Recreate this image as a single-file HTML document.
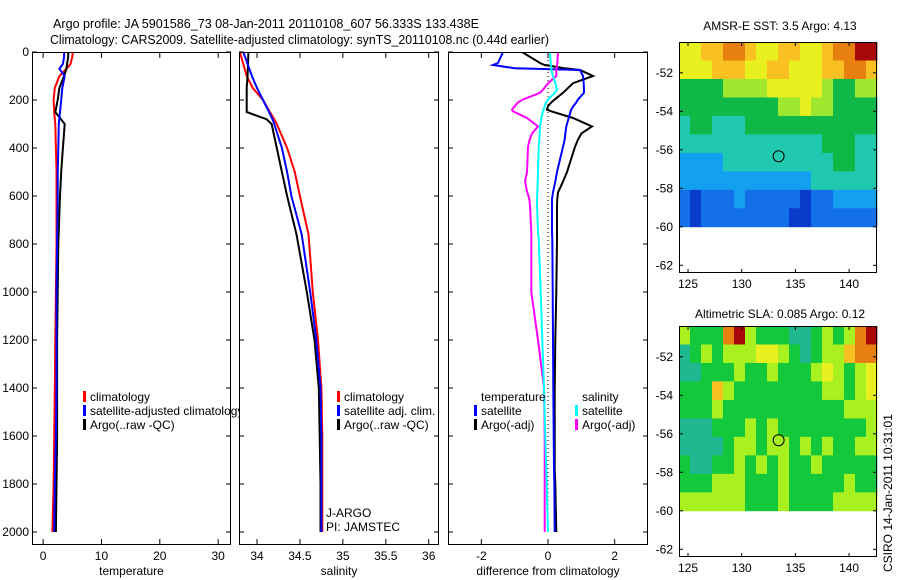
<!DOCTYPE html>
<html><head><meta charset="utf-8"><style>
html,body{margin:0;padding:0;background:#fff;}
svg{display:block;font-family:"Liberation Sans",sans-serif;}
</style></head><body>
<svg id="fig" width="900" height="580" viewBox="0 0 900 580" xmlns="http://www.w3.org/2000/svg">
<text x="53" y="28" font-size="13" textLength="426" lengthAdjust="spacingAndGlyphs">Argo profile: JA 5901586_73 08-Jan-2011 20110108_607 56.333S 133.438E</text>
<text x="50" y="44" font-size="13" textLength="499" lengthAdjust="spacingAndGlyphs">Climatology: CARS2009. Satellite-adjusted climatology: synTS_20110108.nc (0.44d earlier)</text>
<text x="780" y="30" font-size="12" text-anchor="middle">AMSR-E SST: 3.5 Argo: 4.13</text>
<text x="780" y="318" font-size="12" text-anchor="middle">Altimetric SLA: 0.085 Argo: 0.12</text>
<text x="0" y="0" font-size="12" transform="translate(892,572) rotate(-90)">CSIRO 14-Jan-2011 10:31:01</text>
</svg>
<script>
// ---- profile data ----
const depthT = [0,20,50,70,100,150,200,250,300,400,500,600,800,1000,1200,1400,1600,1800,2000];
const tempClim = [5.1,5.0,4.7,4.0,2.8,2.0,1.8,1.9,2.1,2.2,2.3,2.3,2.3,2.2,2.1,2.0,1.9,1.8,1.6];
const tempSat = [3.6,3.6,3.4,2.8,3.7,3.3,3.1,2.9,2.7,2.6,2.5,2.5,2.4,2.3,2.3,2.3,2.2,2.0,1.9];
const tempArgo = [4.3,4.3,4.1,4.0,3.6,2.8,2.5,2.1,3.7,3.4,3.1,2.9,2.6,2.5,2.4,2.4,2.4,2.3,2.2];
const depthS = [0,100,150,200,250,280,300,400,500,600,760,1000,1200,1400,1600,1800,2000];
const salClim = [33.80,33.88,33.95,34.07,34.15,34.20,34.23,34.35,34.44,34.50,34.60,34.65,34.71,34.75,34.76,34.76,34.76];
const salSat = [33.84,33.94,34.00,34.07,34.14,34.18,34.20,34.29,34.35,34.40,34.52,34.62,34.69,34.74,34.75,34.75,34.75];
const salArgo = [33.90,33.89,33.88,33.88,33.88,34.11,34.17,34.23,34.29,34.35,34.46,34.58,34.67,34.72,34.73,34.74,34.74];
const depthD = [0,46,54,68,75,100,130,157,170,198,210,226,240,247,275,310,340,365,395,500,540,585,612,640,750,780,1000,1200,1400,1600,1740,1800,2000];
const dTempSat = [-1.35,-1.5,-1.65,-1.0,0.96,1.05,1.07,1.08,1.08,0.9,0.85,0.76,0.7,0.68,0.62,0.55,0.52,0.5,0.45,0.27,0.22,0.15,0.12,0.12,0.12,0.13,0.14,0.15,0.16,0.17,0.18,0.19,0.2];
const dTempArgo = [-0.78,-0.24,-0.1,0.5,0.96,1.35,0.75,0.55,0.45,0.2,0.1,0.0,-0.03,0.1,0.75,1.32,1.0,0.9,0.81,0.57,0.45,0.3,0.28,0.27,0.27,0.27,0.25,0.22,0.2,0.2,0.2,0.22,0.25];
const dSalSat = [0.06,0.08,0.09,0.1,0.1,0.15,0.22,0.27,0.2,0.0,-0.06,-0.1,-0.13,-0.15,-0.2,-0.24,-0.25,-0.26,-0.28,-0.3,-0.31,-0.32,-0.33,-0.33,-0.3,-0.28,-0.22,-0.17,-0.12,-0.08,-0.05,-0.04,0.0];
const dSalArgo = [0.3,0.28,0.27,0.26,0.25,0.25,0.0,-0.15,-0.24,-0.75,-0.9,-1.0,-1.08,-1.05,-0.63,-0.3,-0.48,-0.55,-0.6,-0.63,-0.69,-0.62,-0.56,-0.54,-0.5,-0.5,-0.5,-0.3,-0.12,-0.1,-0.1,-0.1,-0.1];
const depthTicks = [0,200,400,600,800,1000,1200,1400,1600,1800,2000];
const tempTicks = [0,10,20,30];
const salTicks = [34,34.5,35,35.5,36];
const diffTicks = [-2,0,2];
// ---- map data (rows from north to south, 18 columns west to east) ----
const sstRows = [
"667788766776678899",
"666777667766677887",
"444455556666654455",
"444444444556554444",
"344333444444444444",
"333333333333344433",
"222233333333334433",
"222222222222333333",
"101112111110112222",
"101111111100111111"];
const slaRows = [
"544489544433454589",
"345455566543455788",
"334445445444565456",
"444754444444455456",
"444544444444444555",
"333444545444444445",
"333345545545454455",
"433445454544544444",
"444555444544444544",
"555555444544445555"];
const latTicks = [-52,-54,-56,-58,-60,-62];
const lonTicks = [125,130,135,140];
const argoLon = 133.438, argoLat = -56.333;

const NS = "http://www.w3.org/2000/svg";
const svg = document.getElementById('fig');
function mk(tag, attrs, parent){ const e=document.createElementNS(NS,tag); for(const k in attrs) e.setAttribute(k,attrs[k]); (parent||svg).appendChild(e); return e; }
const Y0=52, Y1=545;
const yD = d => Y0 + d*0.24;

function panel(name, x0, x1, xmin, xmax, ticks, label, ytickLabels){
  const xs = v => x0 + (v-xmin)/(xmax-xmin)*(x1-x0);
  const g = mk('g',{});
  
  
  mk('rect',{x:x0,y:Y0,width:x1-x0,height:Y1-Y0,fill:'#fff',stroke:'none'},g);
  const clip = mk('clipPath',{id:'c'+name},g);
  mk('rect',{x:x0,y:Y0,width:x1-x0,height:Y1-Y0},clip);
  const inner = mk('g',{'clip-path':'url(#c'+name+')'},g);
  ticks.forEach(t=>{
    const x=xs(t);
    mk('line',{x1:x,y1:Y1,x2:x,y2:Y1-6,stroke:'#000'},g);
    mk('line',{x1:x,y1:Y0,x2:x,y2:Y0+6,stroke:'#000'},g);
    const tx = mk('text',{x:x,y:Y1+15,'font-size':12,'text-anchor':'middle'},g);
    tx.textContent=t;
    
    
  });
  depthTicks.forEach(d=>{
    const y=yD(d);
    mk('line',{x1:x0,y1:y,x2:x0+5,y2:y,stroke:'#000'},g);
    mk('line',{x1:x1,y1:y,x2:x1-5,y2:y,stroke:'#000'},g);
    if(ytickLabels){ const tx=mk('text',{x:x0-3,y:y+4,'font-size':12,'text-anchor':'end'},g); tx.textContent=d;
      
       }
  });
  mk('rect',{x:x0+0.5,y:Y0+0.5,width:x1-x0-1,height:Y1-Y0-1,fill:'none',stroke:'#000'},g);
  const lb = mk('text',{x:(x0+x1)/2,y:575,'font-size':12,'text-anchor':'middle'},g);
  lb.textContent=label;
  
  
  return {xs, inner, g};
}
function line(p, depths, vals, color, name){
  const pts = depths.map((d,i)=>p.xs(vals[i]).toFixed(1)+','+yD(d).toFixed(1)).join(' ');
  const pl = mk('polyline',{points:pts,fill:'none',stroke:color,'stroke-width':2},p.inner);
  
  
}
function legend(parent, x, y, color, text){
  if(color){ const r=mk('rect',{x:x-7,y:y-10,width:3,height:11,fill:color},parent);
    
     }
  const t=mk('text',{x:x,y:y,'font-size':12},parent); t.textContent=text;
  
  
}

const p1 = panel('temperature-panel',32,231,-1.9,32.2,tempTicks,'temperature',true);
line(p1,depthT,tempClim,'#f00','temp-climatology-line');
line(p1,depthT,tempArgo,'#000','temp-argo-line');
line(p1,depthT,tempSat,'#00f','temp-satellite-line');
legend(svg,90,401,'#f00','climatology');
legend(svg,90,415,'#00f','satellite-adjusted climatology');
legend(svg,90,429,'#000','Argo(..raw -QC)');

const p2 = panel('salinity-panel',239,439,33.79,36.12,salTicks,'salinity',false);
line(p2,depthS,salClim,'#f00','sal-climatology-line');
line(p2,depthS,salArgo,'#000','sal-argo-line');
line(p2,depthS,salSat,'#00f','sal-satellite-line');
legend(p2.g,344,401,'#f00','climatology');
legend(p2.g,344,415,'#00f','satellite adj. clim.');
legend(p2.g,344,429,'#000','Argo(..raw -QC)');
legend(p2.g,326,517,null,'J-ARGO');
legend(p2.g,326,531,null,'PI: JAMSTEC');

const p3 = panel('difference-panel',448,648,-3.0,3.0,diffTicks,'difference from climatology',false);
mk('line',{x1:p3.xs(0),y1:Y0,x2:p3.xs(0),y2:yD(2000),stroke:'#000','stroke-dasharray':'1,3'},p3.inner);
line(p3,depthD,dTempArgo,'#000','diff-temp-argo-line');
line(p3,depthD,dTempSat,'#00f','diff-temp-satellite-line');
line(p3,depthD,dSalArgo,'#f0f','diff-sal-argo-line');
line(p3,depthD,dSalSat,'#0ff','diff-sal-satellite-line');
legend(p3.g,481,401,null,'temperature');
legend(p3.g,481,415,'#00f','satellite');
legend(p3.g,481,429,'#000','Argo(-adj)');
legend(p3.g,582,401,null,'salinity');
legend(p3.g,582,415,'#0ff','satellite');
legend(p3.g,582,429,'#f0f','Argo(-adj)');

// ---- maps ----
const sstColors = ['#0a3ccc','#1470e8','#14a0f0','#20c8b0','#10b848','#a0e830','#e8f020','#f8c020','#e88010','#a80808'];
const slaColors = ['#0a3ccc','#1470e8','#14a0f0','#20b890','#14c83c','#a8f020','#e8f020','#f8c020','#e88010','#a80808'];
function map(name, top, rows, colors){
  const L=679,R=877,B=top+231;
  const lonMin=124.16, lonMax=142.6, latTop=-50.4, latBot=-62.4;
  const xs = v => L+(v-lonMin)/(lonMax-lonMin)*(R-L);
  const ys = v => top+(latTop-v)/(latTop-latBot)*(B-top);
  const g=mk('g',{});
  
  
  const nr=rows.length, nc=rows[0].length;
  const dLat=(latTop-(-60))/nr, dLon=(lonMax-lonMin)/nc;
  rows.forEach((row,i)=>{
    for(let j=0;j<nc;j++){
      const v=+row[j];
      const x=xs(lonMin+j*dLon), y=ys(latTop-i*dLat);
      const c=mk('rect',{x:x.toFixed(2),y:y.toFixed(2),width:(xs(lonMin+(j+1)*dLon)-x+0.4).toFixed(2),height:(ys(latTop-(i+1)*dLat)-y+0.4).toFixed(2),fill:colors[v]},g);
      
      
    }
  });
  // circle at argo location
  const ci=Math.floor((latTop-argoLat)/dLat), cj=Math.floor((argoLon-lonMin)/dLon);
  const m=mk('circle',{cx:xs(argoLon),cy:ys(argoLat),r:5.5,fill:colors[+rows[ci][cj]],stroke:'#000'},g);
  
  
  latTicks.forEach(t=>{
    const y=ys(t);
    mk('line',{x1:L,y1:y,x2:L+4,y2:y,stroke:'#000'},g);
    mk('line',{x1:R,y1:y,x2:R-4,y2:y,stroke:'#000'},g);
    const tx=mk('text',{x:L-6,y:y+4,'font-size':12,'text-anchor':'end'},g); tx.textContent=t;
    
    
  });
  lonTicks.forEach(t=>{
    const x=xs(t);
    mk('line',{x1:x,y1:B,x2:x,y2:B-4,stroke:'#000'},g);
    mk('line',{x1:x,y1:top,x2:x,y2:top+4,stroke:'#000'},g);
    const tx=mk('text',{x:x,y:B+15,'font-size':12,'text-anchor':'middle'},g); tx.textContent=t;
    
    
  });
  mk('rect',{x:L+0.5,y:top+0.5,width:R-L-1,height:B-top-1,fill:'none',stroke:'#000'},g);
}
map('sst-map',42,sstRows,sstColors);
map('sla-map',326,slaRows,slaColors);
</script>
</body></html>
